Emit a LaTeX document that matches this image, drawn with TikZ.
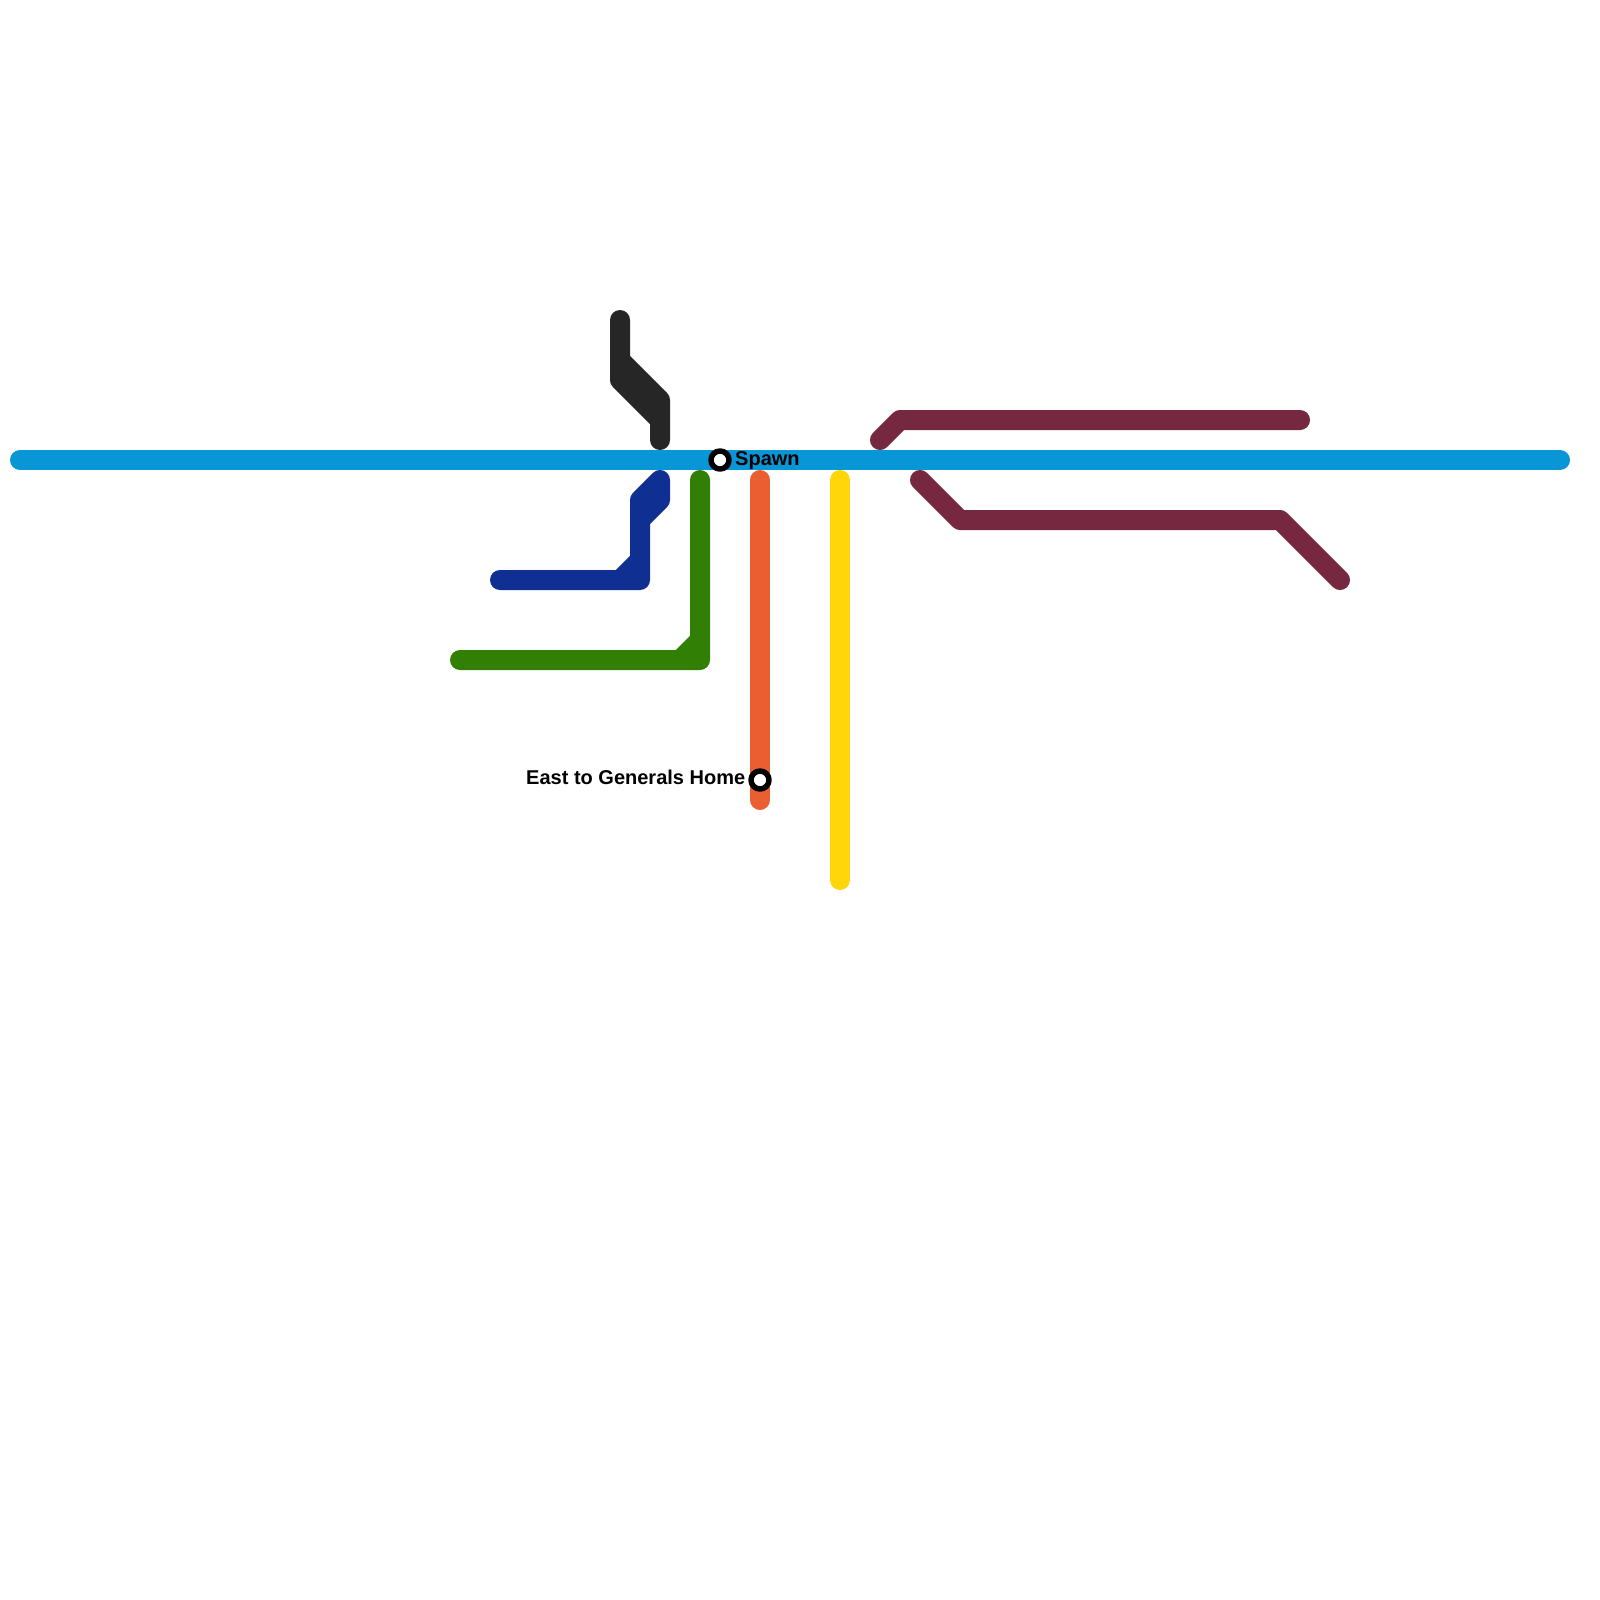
\documentclass[tikz,border=0pt]{standalone}
\usepackage{fontspec}
\setmainfont{Liberation Sans}
\usetikzlibrary{positioning}
\definecolor{cblue}{HTML}{0896D7}
\definecolor{cblack}{HTML}{262626}
\definecolor{cnavy}{HTML}{102F92}
\definecolor{cgreen}{HTML}{317F04}
\definecolor{corange}{HTML}{EA5F31}
\definecolor{cyellow}{HTML}{FFD60A}
\definecolor{cwine}{HTML}{75283F}
\begin{document}
\begin{tikzpicture}[x=0.5pt,y=-0.5pt,line join=round,line cap=round,line width=10pt]
	\tikzset{every node/.style={font=\bfseries\fontsize{10}{12}\selectfont,inner sep=0pt,outer sep=0pt},
		stn/.style={circle,draw=black,fill=white,line width=2.75pt,minimum size=9pt}}
	\useasboundingbox (0,0) rectangle (1600,1600);
	\fill[white] (0,0) rectangle (1600,1600);
	\draw[cblack] (620,320)--(620,360)--(660,400)--(660,440) (620,320)--(620,380)--(660,420)--(660,440);
	\draw[cnavy] (660,480)--(660,500)--(640,520)--(640,580)--(500,580) (660,480)--(640,500)--(640,560)--(620,580)--(500,580);
	\draw[cgreen] (700,480)--(700,660)--(460,660) (700,480)--(700,640)--(680,660)--(460,660);
	\draw[corange] (760,480)--(760,800);
	\draw[cyellow] (840,480)--(840,880);
	\draw[cwine] (880,440)--(900,420)--(1300,420);
	\draw[cwine] (920,480)--(960,520)--(1280,520)--(1340,580);
	\draw[cblue] (20,460)--(1560,460);
	\node[stn] (spawn) at (720,460) {};
	\node[stn] (east) at (760,780) {};
	\node[right=3.1pt of spawn,yshift=-0.3pt] (spawnlbl) {Spawn};
	\node[left=2.9pt of east,yshift=1.3pt] (eastlbl) {East to Generals Home};
\end{tikzpicture}
\end{document}
